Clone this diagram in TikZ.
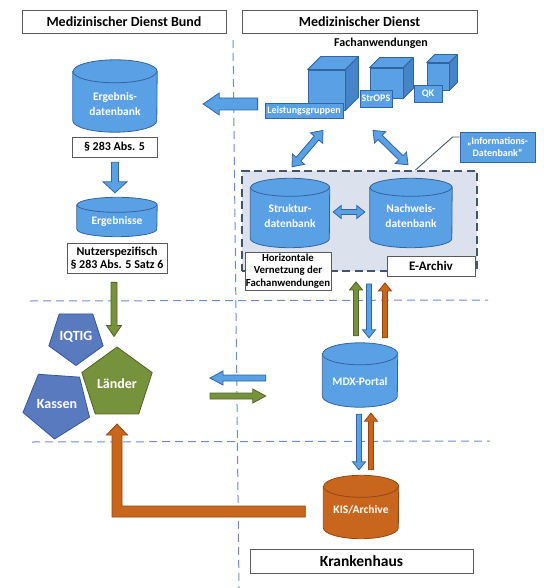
\documentclass[tikz,border=0pt]{standalone}
\usepackage{fontspec}
\setmainfont{Carlito}
\usepackage{tikz}
\usetikzlibrary{calc,positioning,shapes.geometric}
\definecolor{MDBlue}{RGB}{90,160,228}
\definecolor{MDBlueDark}{RGB}{70,132,200}
\definecolor{MDBlueLine}{RGB}{50,100,160}
\definecolor{MDSlate}{RGB}{68,84,106}
\definecolor{MDLight}{RGB}{220,225,238}
\definecolor{MDDash}{RGB}{110,140,200}
\definecolor{MDViolet}{RGB}{90,122,192}
\definecolor{MDVioletLine}{RGB}{55,85,150}
\definecolor{MDGreen}{RGB}{118,146,60}
\definecolor{MDGreenLine}{RGB}{80,100,40}
\definecolor{MDOrange}{RGB}{200,102,30}
\definecolor{MDOrangeLine}{RGB}{150,70,20}
\definecolor{MDGrey}{RGB}{90,90,90}

\tikzset{
  labelbox/.style={draw=MDGrey, fill=white, line width=0.7pt, inner sep=0pt, align=center, font=\bfseries\fontsize{12}{13.5}\selectfont},
  titlebox/.style={labelbox, minimum height=23pt, font=\bfseries\fontsize{14}{16}\selectfont},
  dbbox/.style={inner sep=0pt},
  dbtext/.style={text=white, inner sep=0pt, align=center, font=\bfseries\fontsize{11.5}{15}\selectfont},
  tag/.style={draw=MDBlueLine, fill=MDBlue, text=white, line width=0.8pt, inner sep=0pt, align=center, font=\bfseries\fontsize{10}{12}\selectfont},
  cubeface/.style={draw=MDBlueLine, fill=MDBlue, line width=0.8pt, inner sep=0pt},
  cubeline/.style={draw=MDBlueLine, line width=0.8pt, line join=round},
  penta/.style={regular polygon, regular polygon sides=5, line width=0.8pt, text=white, inner sep=0pt, font=\bfseries\fontsize{14}{16}\selectfont},
  archivbox/.style={draw=MDSlate, fill=MDLight, line width=1.8pt, dash pattern=on 8pt off 4.5pt},
  sepline/.style={draw=MDDash, line width=1pt, dash pattern=on 8pt off 5pt},
  bluearrow/.style={fill=MDBlue, draw=MDBlueLine, line width=0.8pt},
  greenarrow/.style={fill=MDGreen, draw=MDGreenLine, line width=0.8pt},
  orangearrow/.style={fill=MDOrange, draw=MDOrangeLine, line width=0.8pt},
  blockarrow/.style n args={3}{to path={
    let \p1=(\tikztostart), \p2=(\tikztotarget),
        \n1={atan2(\y2-\y1,\x2-\x1)}, \n2={veclen(\x2-\x1,\y2-\y1)-#3pt} in
    ($(\p1)+(\n1+90:#1pt)$) -- ($(\p1)+(\n1:\n2)+(\n1+90:#1pt)$)
    -- ($(\p1)+(\n1:\n2)+(\n1+90:#2pt)$) -- (\p2)
    -- ($(\p1)+(\n1:\n2)+(\n1-90:#2pt)$) -- ($(\p1)+(\n1:\n2)+(\n1-90:#1pt)$)
    -- ($(\p1)+(\n1-90:#1pt)$) -- cycle}},
  dblockarrow/.style n args={3}{to path={
    let \p1=(\tikztostart), \p2=(\tikztotarget),
        \n1={atan2(\y2-\y1,\x2-\x1)}, \n2={veclen(\x2-\x1,\y2-\y1)-#3pt} in
    (\p1) -- ($(\p1)+(\n1:#3pt)+(\n1+90:#2pt)$) -- ($(\p1)+(\n1:#3pt)+(\n1+90:#1pt)$)
    -- ($(\p1)+(\n1:\n2)+(\n1+90:#1pt)$) -- ($(\p1)+(\n1:\n2)+(\n1+90:#2pt)$)
    -- (\p2) -- ($(\p1)+(\n1:\n2)+(\n1-90:#2pt)$) -- ($(\p1)+(\n1:\n2)+(\n1-90:#1pt)$)
    -- ($(\p1)+(\n1:#3pt)+(\n1-90:#1pt)$) -- ($(\p1)+(\n1:#3pt)+(\n1-90:#2pt)$) -- cycle}}
}

% top and side of a cube whose front face is the node #1
\newcommand{\mdcube}[2]{%
  \draw[cubeline, fill=MDBlue] (#1.north west) -- ($(#1.north west)+(#2,-#2)$)
    -- ($(#1.north east)+(#2,-#2)$) -- (#1.north east) -- cycle;
  \draw[cubeline, fill=MDBlueDark] (#1.north east) -- ($(#1.north east)+(#2,-#2)$)
    -- ($(#1.south east)+(#2,-#2)$) -- (#1.south east) -- cycle;
}
% database drum filling the node #1 (x radius #2, y radius #3, colour #4)
\newcommand{\mddrum}[4]{%
  \filldraw[draw=#4Line, fill=#4, line width=0.8pt]
    ($(#1.north west)+(0,#3)$) -- ($(#1.south west)+(0,-#3)$)
    arc[start angle=180, end angle=360, x radius=#2pt, y radius=#3pt]
    -- ($(#1.north east)+(0,#3)$)
    arc[start angle=0, end angle=180, x radius=#2pt, y radius=#3pt] -- cycle;
  \draw[draw=#4Line, line width=0.8pt] ($(#1.north west)+(0,#3)$)
    arc[start angle=180, end angle=360, x radius=#2pt, y radius=#3pt];
}

\begin{document}
\begin{tikzpicture}[x=1pt, y=-1pt]
  \useasboundingbox (0,0) rectangle (543,588);

  % separators
  \draw[sepline] (233,40) -- (239,588);
  \draw[sepline] (30,301) -- (488,300);
  \draw[sepline] (32,442) -- (490,441);

  \node[titlebox, minimum width=204pt] (mdbund) at (124,21.5) {Medizinischer Dienst Bund};
  \node[titlebox, minimum width=235pt] (mdland) at (359.5,21.5) {Medizinischer Dienst};
  \node[font=\bfseries\fontsize{12}{14}\selectfont] (fachanw) at (381,43) {Fachanwendungen};

  % Fachanwendungen
  \node[cubeface, minimum width=37pt, minimum height=40pt] (lgcube) at (326.5,90) {};
  \mdcube{lgcube}{13}
  \node[cubeface, minimum width=33pt, minimum height=30pt] (stropscube) at (386.5,83) {};
  \mdcube{stropscube}{10}
  \node[cubeface, minimum width=22pt, minimum height=27pt] (qkcube) at (438,76.5) {};
  \mdcube{qkcube}{8}
  \node[tag, minimum width=78pt, minimum height=15pt] (lgtag) at (304,110.5) {Leistungsgruppen};
  \node[tag, minimum width=32pt, minimum height=17pt] (stropstag) at (376,98.5) {StrOPS};
  \node[tag, minimum width=28pt, minimum height=17pt] (qktag) at (428,93.5) {QK};

  % E-Archiv
  \node[archivbox, minimum width=235pt, minimum height=100pt] (archiv) at (359.5,221) {};
  \node[dbbox, minimum width=79pt, minimum height=69pt] (struktur) at (290,213) {};
  \mddrum{struktur}{39.5}{9}{MDBlue}
  \node[dbtext] (strukturtext) at ($(struktur.center)+(0,3.5)$) {Struktur-\\datenbank};
  \node[dbbox, minimum width=82pt, minimum height=69pt] (nachweis) at (411,213) {};
  \mddrum{nachweis}{41}{9}{MDBlue}
  \node[dbtext] (nachweistext) at ($(nachweis.center)+(0,3.5)$) {Nachweis-\\datenbank};
  \node[labelbox, minimum width=86pt, minimum height=38pt, font=\bfseries\fontsize{10.8}{12.5}\selectfont] (vernetz) at (288,271) {Horizontale\\Vernetzung der\\Fachanwendungen};
  \node[labelbox, minimum width=88pt, minimum height=20pt, font=\bfseries\fontsize{13}{15}\selectfont] (earchiv) at (431,266) {E-Archiv};
  \node[tag, minimum width=75pt, minimum height=30pt] (infotag) at (497.5,147) {„Informations-\\Datenbank“};
  \draw[MDSlate, line width=0.9pt] ($(archiv.north west)!0.736!(archiv.north east)$)
    -- ($(infotag.west)+(-7,-10)$) -- ($(infotag.west)+(0,-10)$);

  % Medizinischer Dienst Bund
  \node[dbbox, minimum width=84pt, minimum height=72pt] (ergdb) at (115,96) {};
  \mddrum{ergdb}{42}{11.5}{MDBlue}
  \node[dbtext] (ergdbtext) at ($(ergdb.center)+(0,8)$) {Ergebnis-\\datenbank};
  \node[labelbox, minimum width=85pt, minimum height=20pt] (abs5) at (114.5,147) {§ 283 Abs. 5};
  \node[dbbox, minimum width=80pt, minimum height=39pt] (ergres) at (117,217) {};
  \mddrum{ergres}{40}{7.5}{MDBlue}
  \node[dbtext] (ergrestext) at ($(ergres.center)+(0,4)$) {Ergebnisse};
  \node[labelbox, minimum width=100pt, minimum height=30pt] (satz6) at (117,258) {Nutzerspezifisch\\§ 283 Abs. 5 Satz 6};

  % Nutzer
  \node[penta, minimum size=74pt, draw=MDGreenLine, fill=MDGreen] (laender) at (117,384) {Länder};
  \node[penta, minimum size=54pt, shape border rotate=180, draw=MDVioletLine, fill=MDViolet] (iqtig) at (76,337) {IQTIG};
  \node[penta, minimum size=58pt, shape border rotate=176, draw=MDVioletLine, fill=MDViolet] (kassen) at (57,404) {Kassen};

  % Portal und Krankenhaus
  \node[dbbox, minimum width=75pt, minimum height=64pt] (mdx) at (360,375) {};
  \mddrum{mdx}{37.5}{11}{MDBlue}
  \node[dbtext] (mdxtext) at ($(mdx.center)+(0,7)$) {MDX-Portal};
  \node[dbbox, minimum width=75pt, minimum height=63pt] (kis) at (361,507) {};
  \mddrum{kis}{37.5}{11}{MDOrange}
  \node[dbtext] (kistext) at ($(kis.center)+(0,2.5)$) {KIS/Archive};
  \node[titlebox, minimum width=223pt, minimum height=24pt, font=\bfseries\fontsize{15.5}{17}\selectfont] (kh) at (361.5,561) {Krankenhaus};

  % arrows
  \draw[bluearrow, blockarrow={6}{11}{16}] ($(lgtag.west)+(-7,-6.5)$) to ($(ergdb.east)+(46,8)$);
  \draw[bluearrow, blockarrow={3.5}{12}{11}] ($(abs5.south)+(0.5,5)$) to ($(ergres.north)+(-2,-4.5)$);
  \draw[greenarrow, blockarrow={3}{7.5}{11}] ($(satz6.south)+(-3,9)$) to ($(laender.north)+(-3,-10)$);
  \draw[bluearrow, dblockarrow={3}{8}{10}] ($(lgtag.south)+(19,12)$) to ($(struktur.north)+(2,-11.5)$);
  \draw[bluearrow, dblockarrow={3}{8}{10}] ($(stropstag.south)+(-3,23)$) to ($(nachweis.north)+(-3,-13.5)$);
  \draw[bluearrow, dblockarrow={2.5}{6.5}{8}] ($(struktur.east)+(3.5,-1)$) to ($(nachweis.west)+(-5,-1)$);
  \draw[bluearrow, blockarrow={3}{7}{13}] ($(mdx.west)+(-56.5,3)$) to ($(laender.center)+(93,-6)$);
  \draw[greenarrow, blockarrow={3}{7}{13}] ($(laender.center)+(93,12)$) to ($(mdx.west)+(-56.5,21)$);
  \draw[greenarrow, blockarrow={2.5}{6.5}{8}] ($(mdx.north)+(-4,-7)$) to ($(archiv.south)+(-3.5,10)$);
  \draw[bluearrow, blockarrow={2.5}{6.5}{8}] ($(archiv.south)+(9.5,12)$) to ($(mdx.north)+(9,-5)$);
  \draw[orangearrow, blockarrow={2.5}{6.5}{8}] ($(mdx.north)+(25,-5)$) to ($(archiv.south)+(25.5,11)$);
  \draw[bluearrow, blockarrow={2.5}{6.5}{8}] ($(mdx.south)+(-1,7)$) to ($(kis.north)+(-2,-5.5)$);
  \draw[orangearrow, blockarrow={2.5}{6.5}{8}] ($(kis.north)+(10,-5.5)$) to ($(mdx.south)+(11,6)$);

  % KIS to Laender
  \coordinate (lstart) at ($(kis.west)+(-18,4.5)$);
  \coordinate (ltip) at ($(laender.center)+(0,40)$);
  \coordinate (lcorner) at (lstart -| ltip);
  \draw[orangearrow] ($(lstart)+(0,-5.5)$) -- ($(lcorner)+(5,-5.5)$) -- ($(ltip)+(5,11)$)
    -- ($(ltip)+(10.5,11)$) -- (ltip) -- ($(ltip)+(-10.5,11)$) -- ($(ltip)+(-5,11)$)
    -- ($(lcorner)+(-5,5.5)$) -- ($(lstart)+(0,5.5)$) -- cycle;
\end{tikzpicture}
\end{document}
